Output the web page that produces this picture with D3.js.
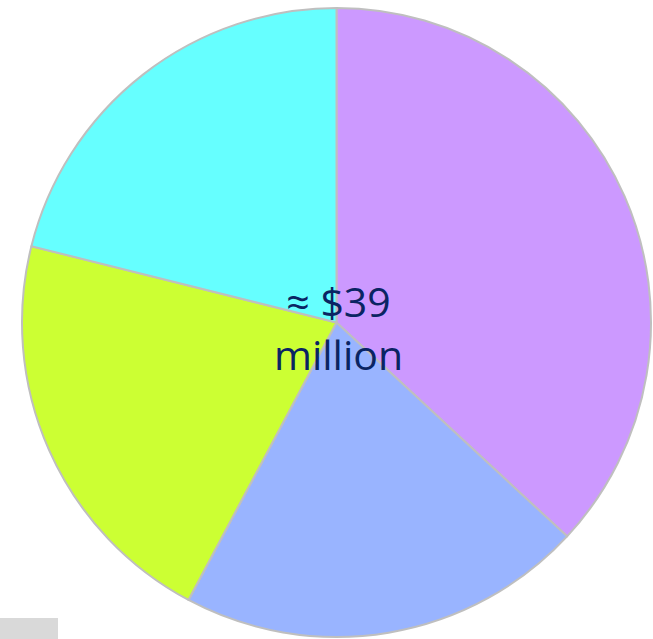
<!DOCTYPE html>
<meta charset="utf-8">
<head>
<script src="https://d3js.org/d3.v7.min.js"></script>
<style>
  body { margin: 0; background: #fff; }
</style>
</head>
<div id="chart"></div>
<script>
  // slice data (share of total, clockwise from 12 o'clock)
  var segments = ["A", "B", "C", "D"];
  var shares = [36.9, 20.9, 21.1, 21.1];
  var segColors = ["#cc99ff", "#99b4ff", "#ccff33", "#66ffff"];
  var centerLabel = ["≈ $39", "million"];

  var width = 653, height = 639;
  var cx = 336.5, cy = 322.5, radius = 314.5;

  var svg = d3.select("#chart")
    .append("svg")
      .attr("width", width)
      .attr("height", height);

  // little grey box at bottom left
  svg.append("rect")
    .attr("x", 0)
    .attr("y", 618)
    .attr("width", 58)
    .attr("height", 21)
    .style("fill", "#d9d9d9");

  var g = svg.append("g")
    .attr("transform", "translate(" + cx + "," + cy + ")");

  var pie = d3.pie().sort(null).value(function(d) { return d; });
  var arc = d3.arc().innerRadius(0).outerRadius(radius);

  g.selectAll("path")
    .data(pie(shares))
    .enter()
    .append("path")
      .attr("d", arc)
      .style("fill", function(d, i) { return segColors[i]; })
      .style("stroke", "#bfbfbf")
      .style("stroke-width", 2)
      .style("stroke-linejoin", "round");

  // label in the middle
  g.selectAll(".lbl")
    .data(centerLabel)
    .enter()
    .append("text")
      .attr("class", "lbl")
      .attr("x", 2)
      .attr("y", function(d, i) { return -6 + i * 53; })
      .attr("text-anchor", "middle")
      .style("font-family", "'Open Sans', sans-serif")
      .style("font-size", "41px")
      .style("fill", "#0a2463")
      .text(function(d) { return d; });
</script>
